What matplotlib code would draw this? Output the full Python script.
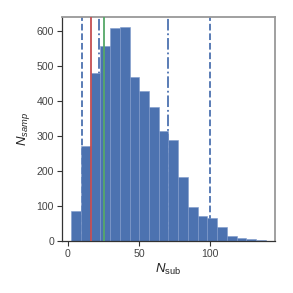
import numpy as np
import matplotlib
matplotlib.use("Agg")
import matplotlib.pyplot as plt

# histogram of N_sub (20 equal bins between min and max of the sample)
n_min, n_max = 2.3, 139.0
counts = [85, 272, 479, 557, 608, 610, 468, 429, 382, 314,
          288, 184, 97, 71, 66, 40, 15, 10, 7, 3]

# reference lines
true_val = 16       # red
median_val = 25.5   # green
inner_bounds = [22, 70]    # dash-dot
outer_bounds = [10, 100]   # dashed

plt.rcParams['font.family'] = ['Liberation Sans', 'DejaVu Sans']
plt.rcParams['mathtext.fontset'] = 'custom'
plt.rcParams['mathtext.rm'] = 'Liberation Sans'
plt.rcParams['mathtext.it'] = 'Liberation Sans:italic'

blue = '#4C72B0'
red = '#C44E52'
green = '#55A868'

fig = plt.figure(figsize=(2.93, 2.93), dpi=100)
ax = fig.add_axes([0.21, 0.177, 0.73, 0.766])

edges = np.linspace(n_min, n_max, len(counts) + 1)
ax.hist(edges[:-1], bins=edges, weights=counts, color=blue,
        edgecolor='#7f9acb', linewidth=0.4, zorder=2)

for x in outer_bounds:
    ax.axvline(x, color=blue, ls='--', lw=1.3, zorder=1)
for x in inner_bounds:
    ax.axvline(x, color=blue, ls='-.', lw=1.3, zorder=1)
ax.axvline(true_val, color=red, lw=1.3, zorder=3)
ax.axvline(median_val, color=green, lw=1.3, zorder=3)

ax.set_xticks([0, 50, 100])
ax.set_yticks(range(0, 601, 100))
ax.tick_params(labelsize=7.6, length=3.5, width=0.8, colors='#333333',
               labelcolor='#444444', pad=2)

ax.set_xlabel(r'$N_{\rm sub}$', fontsize=9.5, color='#222222', labelpad=2)
ax.set_ylabel(r'$N_{samp}$', fontsize=9.5, color='#222222', labelpad=3)

for side in ['left', 'bottom']:
    ax.spines[side].set_color('#333333')
    ax.spines[side].set_linewidth(0.9)
for side in ['top', 'right']:
    ax.spines[side].set_color('#999999')
    ax.spines[side].set_linewidth(1.3)

fig.savefig('out.png', dpi=100)
